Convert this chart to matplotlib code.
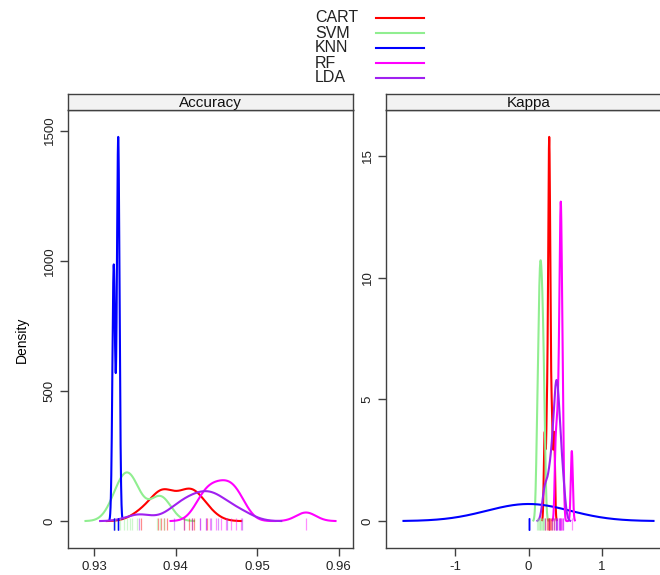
import numpy as np
import matplotlib
matplotlib.use("Agg")
import matplotlib.pyplot as plt
from matplotlib.lines import Line2D

plt.rcParams['font.family'] = ['Liberation Sans', 'DejaVu Sans']

# ---------------- data (resample values, 10 folds per model) ----------------
models = ["CART", "SVM", "KNN", "RF", "LDA"]
colors = ["#FF0000", "#90EE90", "#0000FF", "#FF00FF", "#A020F0"]
metrics = ["Accuracy", "Kappa"]

acc_cart = [0.9358, 0.9378, 0.9382, 0.9386, 0.9390, 0.9410, 0.9416, 0.9420, 0.9423, 0.9438]
acc_svm = [0.9326, 0.9332, 0.9337, 0.9340, 0.9344, 0.9347, 0.9352, 0.9377, 0.9381, 0.9386]
acc_knn = [0.93238, 0.93240, 0.93241, 0.93243, 0.93293, 0.93294, 0.93295, 0.93296, 0.93297, 0.93298]
acc_rf = [0.9430, 0.9437, 0.9442, 0.9450, 0.9456, 0.9462, 0.9468, 0.9474, 0.9480, 0.9560]
acc_lda = [0.9355, 0.9398, 0.9410, 0.9420, 0.9430, 0.9437, 0.9444, 0.9452, 0.9463, 0.9482]

kap_cart = [0.22, 0.25, 0.269, 0.277, 0.28, 0.285, 0.29, 0.30, 0.32, 0.35]
kap_svm = [0.118, 0.136, 0.147, 0.155, 0.163, 0.172, 0.182, 0.192, 0.202, 0.218]
kap_knn = [0.0, 0.0, 0.0, 0.0, 0.0, 0.0, 0.0, 0.0, 0.0, 0.0]
kap_rf = [0.37, 0.395, 0.415, 0.428, 0.436, 0.44, 0.445, 0.453, 0.468, 0.59]
kap_lda = [0.22, 0.28, 0.32, 0.35, 0.37, 0.38, 0.39, 0.41, 0.43, 0.47]

data = {
    "Accuracy": [acc_cart, acc_svm, acc_knn, acc_rf, acc_lda],
    "Kappa": [kap_cart, kap_svm, kap_knn, kap_rf, kap_lda],
}
xticks = {"Accuracy": [0.93, 0.94, 0.95, 0.96], "Kappa": [-1, 0, 1]}
xticklabels = {"Accuracy": ["0.93", "0.94", "0.95", "0.96"], "Kappa": ["-1", "0", "1"]}
yticks = {"Accuracy": [0, 500, 1000, 1500], "Kappa": [0, 5, 10, 15]}


# ---------------- kernel density like R's density() ----------------
def bw_nrd0(x):
    x = np.asarray(x, float)
    hi = np.std(x, ddof=1)
    q75, q25 = np.percentile(x, [75, 25])
    lo = min(hi, (q75 - q25) / 1.34)
    if not lo:
        lo = hi or abs(x[0]) or 1.0
    return 0.9 * lo * len(x) ** (-0.2)


def kde(x):
    x = np.asarray(x, float)
    bw = bw_nrd0(x)
    grid = np.linspace(x.min() - 3 * bw, x.max() + 3 * bw, 512)
    z = (grid[:, None] - x[None, :]) / bw
    dens = np.exp(-0.5 * z ** 2).sum(axis=1) / (len(x) * bw * np.sqrt(2 * np.pi))
    return grid, dens


W, H = 660, 575
fig = plt.figure(figsize=(W / 100, H / 100), dpi=100)

panel_left = {"Accuracy": 68, "Kappa": 386}
panel_w = 285
panel_top, panel_bot = 110, 548
strip_top = 94
edge = "#404040"

for m in metrics:
    l = panel_left[m]
    ax = fig.add_axes([l / W, 1 - panel_bot / H, panel_w / W, (panel_bot - panel_top) / H])
    xs_all, ys_all = [], []
    curves = []
    for vals in data[m]:
        gx, gy = kde(vals)
        curves.append((gx, gy))
        xs_all += [gx.min(), gx.max()]
        ys_all += [gy.max()]
    xmin, xmax = min(xs_all), max(xs_all)
    ymin, ymax = 0.0, max(ys_all)
    xr, yr = xmax - xmin, ymax - ymin
    ax.set_xlim(xmin - 0.07 * xr, xmax + 0.07 * xr)
    ax.set_ylim(ymin - 0.07 * yr, ymax + 0.07 * yr)
    for (gx, gy), c in zip(curves, colors):
        ax.plot(gx, gy, color=c, lw=1.5, solid_joinstyle="round")
    for vals, c in zip(data[m], colors):
        ax.plot(vals, np.full(len(vals), -0.008 * yr), linestyle="none", marker="|",
                ms=9, mew=0.9, color=c, alpha=0.45)
    ax.set_xticks(xticks[m])
    ax.set_xticklabels(xticklabels[m])
    ax.set_yticks(yticks[m])
    ax.set_yticklabels([str(v) for v in yticks[m]], rotation=90, va="center")
    ax.tick_params(direction="out", length=6, width=1, color=edge, labelsize=9.5,
                   labelcolor="#222222", pad=3)
    for s in ax.spines.values():
        s.set_color(edge)
        s.set_linewidth(1.0)
    # strip
    sax = fig.add_axes([l / W, 1 - panel_top / H, panel_w / W, (panel_top - strip_top) / H])
    sax.set_facecolor("#F2F2F2")
    sax.set_xticks([])
    sax.set_yticks([])
    for s in sax.spines.values():
        s.set_color(edge)
        s.set_linewidth(1.0)
    sax.text(0.5, 0.45, m, ha="center", va="center", fontsize=11, transform=sax.transAxes,
             color="#111111")

fig.text(22 / W, 1 - 340 / H, "Density", rotation=90, ha="center", va="center", fontsize=10)

# legend (key)
row_y = [18, 33, 48, 63, 78]
for name, c, yy in zip(models, colors, row_y):
    fig.text(315 / W, 1 - yy / H, name, ha="left", va="center", fontsize=11.5, color="#222222")
    fig.add_artist(Line2D([376 / W, 424 / W], [1 - yy / H, 1 - yy / H], color=c, lw=1.5,
                          transform=fig.transFigure))

fig.savefig("out.png", dpi=100)
